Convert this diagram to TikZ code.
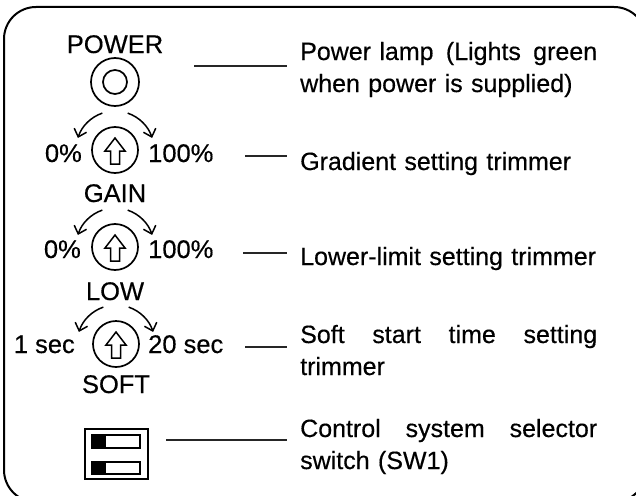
\documentclass[tikz,border=0pt]{standalone}
\usepackage{fontspec}
\setmainfont{Liberation Sans}[FakeBold=0.4]
\usetikzlibrary{arrows.meta,calc}
\begin{document}
\begin{tikzpicture}[x=1pt,y=1pt,
  lbl/.style={font=\fontsize{25.5}{30}\selectfont, inner sep=0pt},
  desc/.style={font=\fontsize{25}{32}\selectfont, inner sep=0pt, text width=297pt, align=left, anchor=base west},
  ring/.style={draw, circle, line width=1.7pt, inner sep=0pt},
  lead/.style={line width=1.3pt, draw=black!85},
  turn/.style={line width=1.5pt, -{Straight Barb[length=7pt,width=13pt,line width=1.5pt]}},
  glyph/.style={line width=1.5pt, line join=miter}]
\useasboundingbox (0,0) rectangle (636,-495);
\clip (0,0) rectangle (636,-495);
% frame
\draw[line width=2pt, rounded corners=32pt] (4,-7) rectangle (646,-502);

% power lamp
\node[lbl, anchor=base] (ptxt) at (115,-53) {POWER};
\node[ring, minimum size=48pt] (lamp) at (115,-82) {};
\node[ring, minimum size=24pt] (lampin) at (lamp.center) {};

% knobs
\foreach \n/\cx/\cy in {k1/115/150, k2/115/247, k3/116/344}{
  \node[ring, minimum size=46pt] (\n) at (\cx,-\cy) {};
  \draw[glyph] ($(\n.center)+(0,12)$) -- ++(10,-13) -- ++(-5.5,0) -- ++(0,-13) -- ++(-9,0) -- ++(0,13) -- ++(-5.5,0) -- cycle;
  \draw[turn] ($(\n.center)+(109:39)$) arc[start angle=109, end angle=162, radius=39];
  \draw[turn] ($(\n.center)+(71:39)$) arc[start angle=71, end angle=18, radius=39];
}
\node[lbl, anchor=base east] (g0) at (82,-162) {0\%};
\node[lbl, anchor=base west] (g1) at (148,-162) {100\%};
\node[lbl, anchor=base] (gain) at (115,-202) {GAIN};
\node[lbl, anchor=base east] (l0) at (81,-258) {0\%};
\node[lbl, anchor=base west] (l1) at (148,-258) {100\%};
\node[lbl, anchor=base] (low) at (115,-300) {LOW};
\node[lbl, anchor=base east] (s0) at (75,-353) {1 sec};
\node[lbl, anchor=base west] (s1) at (148,-353) {20 sec};
\node[lbl, anchor=base] (soft) at (116,-393) {SOFT};

% DIP switch
\node[draw, line width=2pt, minimum width=63pt, minimum height=50pt, inner sep=0pt] (sw) at (116.5,-454) {};
\draw[line width=1.4pt] (92,-435) rectangle (140,-448);
\fill (92,-435) rectangle (106,-448);
\draw[line width=1.4pt] (92,-462) rectangle (140,-474);
\fill (92,-462) rectangle (106,-474);

% descriptions
\node[desc] (d1) at (300,-60) {\makebox[297pt][l]{Power lamp\hfill(Lights\hfill green}\\when power is supplied)};
\node[desc] (d2) at (300,-170) {Gradient setting trimmer};
\node[desc] (d3) at (300,-265) {Lower-limit setting trimmer};
\node[desc] (d4) at (300,-343) {\makebox[297pt][l]{Soft\hfill start\hfill time\hfill setting}\\trimmer};
\node[desc] (d5) at (300,-437) {\makebox[297pt][l]{Control\hfill system\hfill selector}\\switch (SW1)};

% leaders
\coordinate (c1) at (194,-66);
\coordinate (c2) at (245,-156);
\coordinate (c3) at (243,-253);
\coordinate (c4) at (245,-347);
\coordinate (c5) at (166,-440);
\foreach \c/\d in {c1/d1, c2/d2, c3/d3, c4/d4, c5/d5}{
  \draw[lead, shorten >=13pt] (\c) -- (\c -| \d.west);
}
\end{tikzpicture}
\end{document}
